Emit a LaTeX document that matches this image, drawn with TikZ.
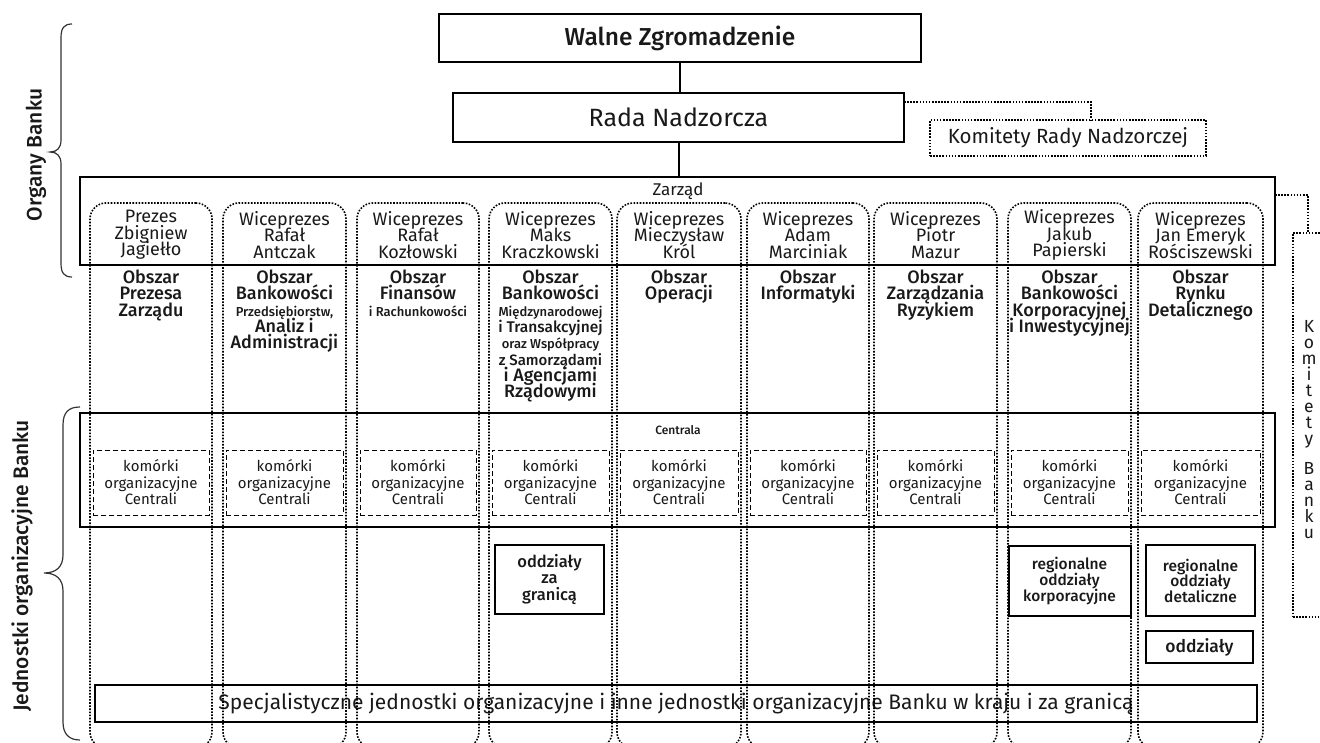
\documentclass[tikz,border=0pt]{standalone}
\usepackage{fontspec}
\setmainfont{Fira Sans}[BoldFont={Fira Sans Medium}]
\lineskiplimit=-50pt
\lineskip=0pt
\begin{document}
\begin{tikzpicture}[x=1pt,y=-1pt,
  every node/.style={inner sep=0pt, outer sep=0pt, text=black!90},
  solidbox/.style={draw, line width=2pt, rectangle},
  dotline/.style={line width=1.6pt, dash pattern=on 1.6pt off 1.5pt},
  dotbox/.style={draw, dotline},
  dashbox/.style={draw, line width=0.9pt, dash pattern=on 5pt off 3pt},
  column/.style={draw, dotline, rounded corners=16pt, minimum height=545pt},
  headtext/.style={align=center, font=\fontsize{18}{16.5}\selectfont},
  areatext/.style={align=center, anchor=north, font=\bfseries\fontsize{18}{16.3}\selectfont},
  komtext/.style={align=center, font=\fontsize{15}{16.5}\selectfont},
  unittext/.style={align=center, font=\bfseries\fontsize{16.5}{16.5}\selectfont},
  sidelabel/.style={rotate=90, font=\bfseries\fontsize{21}{22}\selectfont},
  bracepen/.style={line width=1.2pt, black!80}
]
\useasboundingbox (0,0) rectangle (1320,743);

% ---------- governing bodies ----------
\node[solidbox, minimum width=482pt, minimum height=48pt,
      font=\bfseries\fontsize{24.5}{26}\selectfont] (walne) at (680,38) {Walne Zgromadzenie};
\node[solidbox, minimum width=451pt, minimum height=49pt,
      font=\fontsize{25}{26}\selectfont] (rada) at (678.5,117.5) {Rada Nadzorcza};
\node[solidbox, minimum width=1195pt, minimum height=88pt] (zarzad) at (677.5,221) {};
\node[font=\fontsize{17}{18}\selectfont] (zlabel) at (678,191) {Zarząd};

\draw[line width=2pt] (walne.south) -- (walne.south |- rada.north);
\draw[line width=2pt] (rada.south) -- (rada.south |- zarzad.north);

% committees
\node[dotbox, minimum width=276pt, minimum height=36pt,
      font=\fontsize{20.5}{22}\selectfont] (krn) at (1068,138) {Komitety Rady Nadzorczej};
\draw[dotline] ([yshift=15.5pt]rada.east) -| ([xshift=23pt]krn.north);

\node[dotbox, minimum width=60pt, minimum height=384pt] (kb) at (1323,425) {};
\draw[dotline] ([yshift=26pt]zarzad.east) -| ([xshift=15pt]kb.north west);
\node[align=center, font=\fontsize{17.5}{16}\selectfont] (kbtext) at (1309,430)
  {K\\o\\m\\i\\t\\e\\t\\y\\[14pt]B\\a\\n\\k\\u};

% ---------- board members ----------
\node[headtext] (head1) at (151,235)    {Prezes\\Zbigniew\\Jagiełło};
\node[headtext] (head2) at (284.5,235)  {Wiceprezes\\Rafał\\Antczak};
\node[headtext] (head3) at (418,235)    {Wiceprezes\\Rafał\\Kozłowski};
\node[headtext] (head4) at (550.5,235)  {Wiceprezes\\Maks\\Kraczkowski};
\node[headtext] (head5) at (679,235)    {Wiceprezes\\Mieczysław\\Król};
\node[headtext] (head6) at (808,235)    {Wiceprezes\\Adam\\Marciniak};
\node[headtext] (head7) at (935.5,235)  {Wiceprezes\\Piotr\\Mazur};
\node[headtext] (head8) at (1069.5,235) {Wiceprezes\\Jakub\\Papierski};
\node[headtext] (head9) at (1200.5,235) {Wiceprezes\\Jan Emeryk\\Rościszewski};

% ---------- areas ----------
\node[areatext] (area1) at (151,270)    {Obszar\\Prezesa\\Zarządu};
\node[areatext] (area2) at (284.5,270)  {Obszar\\Bankowości\\{\fontsize{13}{16}\selectfont Przedsiębiorstw,}\\Analiz i\\Administracji};
\node[areatext] (area3) at (418,270)    {Obszar\\Finansów\\{\fontsize{13}{16}\selectfont i Rachunkowości}};
\node[areatext] (area4) at (550.5,270)  {Obszar\\Bankowości\\{\fontsize{13}{16}\selectfont Międzynarodowej}\\{\fontsize{15.5}{16}\selectfont i Transakcyjnej}\\{\fontsize{13}{16}\selectfont oraz Współpracy}\\{\fontsize{15}{16}\selectfont z Samorządami}\\i Agencjami\\Rządowymi};
\node[areatext] (area5) at (679,270)    {Obszar\\Operacji};
\node[areatext] (area6) at (808,270)    {Obszar\\Informatyki};
\node[areatext] (area7) at (935.5,270)  {Obszar\\Zarządzania\\Ryzykiem};
\node[areatext] (area8) at (1069.5,270) {Obszar\\Bankowości\\Korporacyjnej\\i Inwestycyjnej};
\node[areatext] (area9) at (1200.5,270) {Obszar\\Rynku\\Detalicznego};

% ---------- head office ----------
\node[solidbox, minimum width=1195pt, minimum height=114pt] (centrala) at (677.5,470) {};
\node[font=\bfseries\fontsize{12}{13}\selectfont] (clabel) at (678,430) {Centrala};
\foreach \i/\l/\r in {1/90/212,2/223/346,3/357/479,4/489/612,5/617/741,6/747/869,7/874/997,8/1008/1131,9/1138/1263}
  \node[dashbox, komtext, minimum width={\r-\l-6}, minimum height=65pt] (kom\i)
    at ({(\l+\r)/2},482.5) {komórki\\organizacyjne\\Centrali};

% ---------- branches ----------
\node[solidbox, unittext, minimum width=109pt, minimum height=69pt] (zagr) at (549.5,579.5) {oddziały\\za\\granicą};
\node[solidbox, unittext, font=\bfseries\fontsize{15.5}{16.2}\selectfont, minimum width=122pt, minimum height=70pt] (rok) at (1069.5,581) {regionalne\\oddziały\\korporacyjne};
\node[solidbox, unittext, font=\bfseries\fontsize{15.5}{15.5}\selectfont, minimum width=109pt, minimum height=71pt] (rod) at (1200.5,580.5) {regionalne\\oddziały\\detaliczne};
\node[solidbox, unittext, font=\bfseries\fontsize{17.5}{17.5}\selectfont, minimum width=107pt, minimum height=32pt] (odd) at (1199.5,647) {oddziały};

\node[solidbox, minimum width=1162pt, minimum height=37pt,
      font=\fontsize{21}{22}\selectfont] (spec) at (676,703.5)
  {Specjalistyczne jednostki organizacyjne i inne jednostki organizacyjne Banku w kraju i za granicą};

% ---------- area columns ----------
\foreach \i/\l/\r in {1/90/212,2/223/346,3/357/479,4/489/612,5/617/741,6/747/869,7/874/997,8/1008/1131,9/1138/1263}
  \node[column, minimum width={\r-\l}] (col\i) at ({(\l+\r)/2},475.5) {};

% ---------- braces and side labels ----------
\draw[bracepen] (72,24) .. controls (64,24) and (61,28) .. (61,38) -- (61,140)
  .. controls (61,148) and (57,152) .. (50,152)
  .. controls (57,152) and (61,156) .. (61,164) -- (61,263)
  .. controls (61,273) and (64,277) .. (72,277);
\node[sidelabel] (organy) at (36,155) {Organy Banku};

\draw[bracepen] (80,407) .. controls (69,407) and (63,412) .. (63,425) -- (63,555)
  .. controls (63,567) and (56,573) .. (44,573)
  .. controls (56,573) and (63,579) .. (63,591) -- (63,722)
  .. controls (63,734) and (69,740) .. (80,740);
\node[sidelabel] (jednostki) at (22,566) {Jednostki organizacyjne Banku};
\end{tikzpicture}
\end{document}
